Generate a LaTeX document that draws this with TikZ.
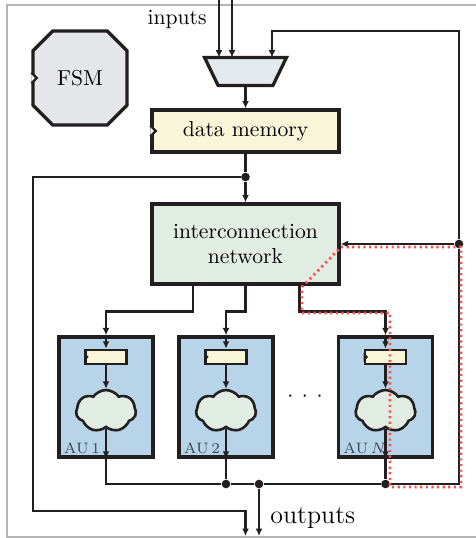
\documentclass[tikz,border=0pt]{standalone}
\usepackage{tikz}
\usetikzlibrary{arrows.meta,positioning,shapes.misc,shapes.symbols}
\definecolor{wirecol}{HTML}{231F20}
\definecolor{fsmfill}{HTML}{E5E6E9}
\definecolor{muxfill}{HTML}{E2EAEE}
\definecolor{memfill}{HTML}{F8F5D8}
\definecolor{netfill}{HTML}{E1ECE2}
\definecolor{aufill}{HTML}{B8D4E8}
\definecolor{framecol}{HTML}{B4B4B4}
\definecolor{loopcol}{HTML}{F0564D}
\definecolor{labcol}{HTML}{3A4654}
\tikzset{>={Latex[length=3.4pt,width=3.2pt]}}
\tikzset{block/.style={draw=wirecol, line width=1.5pt, inner sep=0pt, align=center}}
\tikzset{conn/.style={draw=wirecol, line width=1.35pt}}
\tikzset{junction/.style={circle, fill=wirecol, inner sep=0pt, minimum size=4pt}}
\tikzset{unitlab/.style={font=\scriptsize, text=labcol, inner sep=0pt, anchor=south west}}
\tikzset{loopmark/.style={draw=loopcol, line width=1.3pt, dash pattern=on 1pt off 1.6pt}}

\begin{document}
\begin{tikzpicture}[x=0.463pt,y=-0.463pt]
      \useasboundingbox (0,0) rectangle (476,538);
      \draw[framecol, line width=0.5pt] (7,5) rectangle (490,537);
      % control and data path
      \node[block, chamfered rectangle, chamfered rectangle xsep=5.5pt, chamfered rectangle ysep=5.5pt,
            fill=fsmfill, minimum width=43.5pt, minimum height=43.5pt] (fsm) at (80,78) {FSM};
      \node[inner sep=0pt, minimum width=37.5pt, minimum height=12.5pt] (mux) at (245.5,71.5) {};
      \draw[conn, line width=1.5pt, fill=muxfill, line join=miter] (mux.north west) -- (mux.north east)
            -- ([xshift=-6.25pt]mux.south east) -- ([xshift=6.25pt]mux.south west) -- cycle;
      \node[block, fill=memfill, minimum width=86.6pt, minimum height=19.4pt] (mem) at (245.5,131) {data memory};
      \node[block, fill=netfill, minimum width=86.6pt, minimum height=37pt] (net) at (245.5,244) {interconnection\\network};
      \draw[conn, fill=white, line width=1.1pt] ([yshift=2.5pt]fsm.west) -- ([xshift=2.5pt]fsm.west) -- ([yshift=-2.5pt]fsm.west);
      \draw[conn, fill=white, line width=1.1pt] ([yshift=2.5pt]mem.west) -- ([xshift=2.5pt]mem.west) -- ([yshift=-2.5pt]mem.west);
      % arithmetic units
      \node[block, fill=aufill, minimum width=43.5pt, minimum height=55.6pt] (au1) at (106,397) {};
      \node[block, fill=aufill, minimum width=43.5pt, minimum height=55.6pt] (au2) at (226,397) {};
      \node[block, fill=aufill, minimum width=43.5pt, minimum height=55.6pt] (au3) at (385.5,397) {};
      \node[block, fill=memfill, line width=1.2pt, minimum width=19pt, minimum height=6.5pt] (reg1) at (106,357) {};
      \node[block, fill=memfill, line width=1.2pt, minimum width=19pt, minimum height=6.5pt] (reg2) at (226,357) {};
      \node[block, fill=memfill, line width=1.2pt, minimum width=19pt, minimum height=6.5pt] (reg3) at (385.5,357) {};
      \node[block, cloud, cloud puffs=7, cloud puff arc=110, aspect=1.45, fill=netfill, line width=1.2pt,
            minimum width=27.8pt, minimum height=19.4pt] (cl1) at (106,411) {};
      \node[block, cloud, cloud puffs=7, cloud puff arc=110, aspect=1.45, fill=netfill, line width=1.2pt,
            minimum width=27.8pt, minimum height=19.4pt] (cl2) at (226,411) {};
      \node[block, cloud, cloud puffs=7, cloud puff arc=110, aspect=1.45, fill=netfill, line width=1.2pt,
            minimum width=27.8pt, minimum height=19.4pt] (cl3) at (385.5,411) {};
      \fill[wirecol] ([yshift=2pt]reg1.west) -- ([xshift=2pt]reg1.west) -- ([yshift=-2pt]reg1.west) -- cycle;
      \fill[wirecol] ([yshift=2pt]reg2.west) -- ([xshift=2pt]reg2.west) -- ([yshift=-2pt]reg2.west) -- cycle;
      \fill[wirecol] ([yshift=2pt]reg3.west) -- ([xshift=2pt]reg3.west) -- ([yshift=-2pt]reg3.west) -- cycle;
      \node[unitlab] (lab1) at ([xshift=2.8pt,yshift=2pt]au1.south west) {AU\,1};
      \node[unitlab] (lab2) at ([xshift=2.8pt,yshift=2pt]au2.south west) {AU\,2};
      \node[unitlab] (lab3) at ([xshift=2.8pt,yshift=2pt]au3.south west) {AU\,$N$};
      \node (dots) at (305,397) {$\cdot$\hspace{4pt}$\cdot$\hspace{4pt}$\cdot$};
      % inputs and outputs
      \coordinate (in1) at (219,-4);
      \coordinate (in2) at (232,-4);
      \coordinate (out1) at (245.5,536);
      \coordinate (out2) at (259,536);
      \coordinate (fbk) at (272,31);
      \node[anchor=base east, inner sep=0pt] (inlab) at (207,25) {inputs};
      \node[anchor=base west, inner sep=0pt, font=\large] (outlab) at (270,523) {outputs};
      \node[junction] (j1) at (245.5,177) {};
      \node[junction] (j2) at (226,484) {};
      \node[junction] (j3) at (259,484) {};
      \node[junction] (j4) at (385.5,484) {};
      \node[junction] (j5) at (459,244) {};
      \draw[conn,->] (in1) -- (in1 |- mux.north);
      \draw[conn,->] (in2) -- (in2 |- mux.north);
      \draw[conn,->] (mux.south) -- (mem.north);
      \draw[conn] (mem.south) -- (j1);
      \draw[conn,->] (j1) -- (net.north);
      \draw[conn,->] (j1) -| (33,511) -| (out1);
      \draw[conn,->] (j3) -- (out2);
      \draw[conn,->] ([xshift=-24.3pt]net.south) -- ++(0,26) -| (au1.north);
      \draw[conn,->] (net.south) -- ++(0,26) -| (au2.north);
      \draw[conn,->] ([xshift=24.8pt]net.south) -- ++(0,26) -| (au3.north);
      \draw[conn,->] (au1.north) -- (reg1.north);
      \draw[conn,->] (au2.north) -- (reg2.north);
      \draw[conn,->] (au3.north) -- (reg3.north);
      \draw[conn,->] (reg1.south) -- (cl1.north);
      \draw[conn,->] (reg2.south) -- (cl2.north);
      \draw[conn,->] (reg3.south) -- (cl3.north);
      \draw[conn,->] (cl1.south) -- (au1.south);
      \draw[conn,->] (cl2.south) -- (au2.south);
      \draw[conn,->] (cl3.south) -- (au3.south);
      \draw[conn] (au1.south) |- (j2) -- (j3) -- (j4) -| (j5);
      \draw[conn] (au2.south) -- (j2);
      \draw[conn] (au3.south) -- (j4);
      \draw[conn,->] (j5) -- (net.east);
      \draw[conn,->] (j5) |- (fbk) -- (fbk |- mux.north);
      % feedback cycle
      \draw[loopmark] (341,247) -- (461,247) -- (461,487) -- (390,487) -- (390,313) -- (302,313) -- (302,287) -- cycle;
    \end{tikzpicture}
\end{document}
